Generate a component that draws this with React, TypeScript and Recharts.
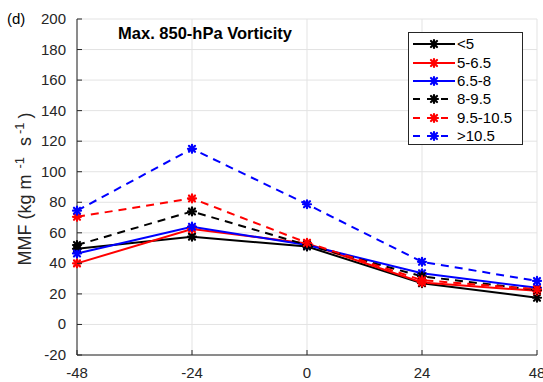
import React from 'react';
import { LineChart, Line, XAxis, YAxis, CartesianGrid, Legend } from 'recharts';

// lead time (h) relative to the event
const hours = [-48, -24, 0, 24, 48];

// MMF (kg m-1 s-1) per max. 850-hPa vorticity bin
const lt5 = [49.5, 57.5, 51, 27, 17.5];
const v5to65 = [40, 62.5, 53, 27.5, 22];
const v65to8 = [46.5, 64, 52, 33.5, 24];
const v8to95 = [52, 74, 52, 31.5, 22.5];
const v95to105 = [70.5, 82.5, 53.5, 29, 23];
const gt105 = [74.5, 115, 78.7, 41, 28.5];

const xTicks = [-48, -24, 0, 24, 48];
const yTicks = [-20, 0, 20, 40, 60, 80, 100, 120, 140, 160, 180, 200];

const series = [
  { key: 'lt5', name: '<5', color: '#000000', dashed: false, values: lt5 },
  { key: 'v5to65', name: '5-6.5', color: '#ff0000', dashed: false, values: v5to65 },
  { key: 'v65to8', name: '6.5-8', color: '#0000ff', dashed: false, values: v65to8 },
  { key: 'v8to95', name: '8-9.5', color: '#000000', dashed: true, values: v8to95 },
  { key: 'v95to105', name: '9.5-10.5', color: '#ff0000', dashed: true, values: v95to105 },
  { key: 'gt105', name: '>10.5', color: '#0000ff', dashed: true, values: gt105 },
];

const data = hours.map((h, i) => {
  const row: Record<string, number> = { hour: h };
  series.forEach(s => {
    row[s.key] = s.values[i];
  });
  return row;
});

const FONT = '"Liberation Sans", Arial, Helvetica, sans-serif';
const INK = '#262626';

// matlab-style '*' marker
function Asterisk({ cx, cy, color }: { cx: number; cy: number; color: string }) {
  const r = 4;
  const d = 3;
  return (
    <g stroke={color} strokeWidth={2.2} strokeLinecap="round">
      <line x1={cx - r} y1={cy} x2={cx + r} y2={cy} />
      <line x1={cx} y1={cy - r} x2={cx} y2={cy + r} />
      <line x1={cx - d} y1={cy - d} x2={cx + d} y2={cy + d} />
      <line x1={cx - d} y1={cy + d} x2={cx + d} y2={cy - d} />
    </g>
  );
}

function LeftTick(props: any) {
  const { x, y, payload } = props;
  const axisX = x + 11;
  return (
    <g>
      <line x1={axisX} y1={y} x2={axisX + 5} y2={y} stroke={INK} />
      <text x={x} y={y + 5} textAnchor="end" fontSize={15} fill={INK} fontFamily={FONT}>
        {payload.value}
      </text>
    </g>
  );
}

function BottomTick(props: any) {
  const { x, y, payload } = props;
  const axisY = y - 4;
  return (
    <g>
      <line x1={x} y1={axisY} x2={x} y2={axisY - 5} stroke={INK} />
      <text x={x} y={axisY + 23} textAnchor="middle" fontSize={15} fill={INK} fontFamily={FONT}>
        {payload.value}
      </text>
    </g>
  );
}

function Annotations() {
  return (
    <g fontFamily={FONT} fill={INK}>
      <text x={7} y={24} fontSize={15} fill="#000">(d)</text>
      <text x={205} y={39} fontSize={16.5} fontWeight="bold" textAnchor="middle" fill="#000">
        Max. 850-hPa Vorticity
      </text>
      <text
        x={31}
        y={189}
        fontSize={18}
        textAnchor="middle"
        transform="rotate(-90, 31, 189)"
      >
        MMF (kg m
        <tspan dx={6} dy={-7} fontSize={13}>-1</tspan>
        <tspan dx={6} dy={7}> s</tspan>
        <tspan dx={3} dy={-7} fontSize={13}>-1</tspan>
        <tspan dx={4} dy={7}>)</tspan>
      </text>
    </g>
  );
}

function LegendBox() {
  return (
    <div
      style={{
        width: 115,
        height: 113,
        border: `1px solid ${INK}`,
        background: '#fff',
        fontFamily: FONT,
        fontSize: 15,
        color: '#000',
        paddingTop: 2,
        boxSizing: 'border-box',
      }}
    >
      {series.map(s => (
        <div key={s.key} style={{ display: 'flex', alignItems: 'center', height: 18.4 }}>
          <svg width={48} height={18} style={{ flex: 'none' }}>
            <line
              x1={4}
              y1={9}
              x2={46}
              y2={9}
              stroke={s.color}
              strokeWidth={2}
              strokeDasharray={s.dashed ? '7 7' : undefined}
            />
            <Asterisk cx={25} cy={9} color={s.color} />
          </svg>
          <span style={{ lineHeight: '18px' }}>{s.name}</span>
        </div>
      ))}
    </div>
  );
}

export default function App() {
  return (
    <div style={{ position: 'absolute', left: 0, top: 0, width: 543, height: 382, background: '#fff' }}>
      <LineChart width={543} height={382} data={data} margin={{ top: 19, right: 6, bottom: 0, left: 0 }}>
        <CartesianGrid stroke="#e3e3e3" strokeWidth={1} />
        <XAxis
          dataKey="hour"
          type="number"
          domain={[-48, 48]}
          ticks={xTicks}
          height={27}
          tickSize={0}
          tickMargin={4}
          tickLine={false}
          axisLine={{ stroke: INK }}
          tick={<BottomTick />}
          interval={0}
        />
        <XAxis
          xAxisId="top"
          dataKey="hour"
          type="number"
          orientation="top"
          domain={[-48, 48]}
          ticks={xTicks}
          height={0}
          mirror
          tickSize={5}
          stroke={INK}
          tickFormatter={() => ''}
        />
        <YAxis
          domain={[-20, 200]}
          ticks={yTicks}
          width={77}
          tickSize={0}
          tickMargin={11}
          tickLine={false}
          axisLine={{ stroke: INK }}
          tick={<LeftTick />}
          interval={0}
          label={{ content: () => <Annotations /> }}
        />
        <YAxis
          yAxisId="right"
          orientation="right"
          domain={[-20, 200]}
          ticks={yTicks}
          width={0}
          mirror
          tickSize={5}
          stroke={INK}
          tickFormatter={() => ''}
        />
        <Legend
          layout="vertical"
          align="center"
          verticalAlign="middle"
          wrapperStyle={{ position: 'absolute', left: 408, top: 32, width: 'auto' }}
          content={() => <LegendBox />}
        />
        {series.map(s => (
          <Line
            key={s.key}
            dataKey={s.key}
            name={s.name}
            type="linear"
            stroke={s.color}
            strokeWidth={2}
            strokeDasharray={s.dashed ? '8 6' : undefined}
            dot={(p: any) => <Asterisk key={`${s.key}-${p.index}`} cx={p.cx} cy={p.cy} color={s.color} />}
            activeDot={false}
            isAnimationActive={false}
          />
        ))}
      </LineChart>
    </div>
  );
}
